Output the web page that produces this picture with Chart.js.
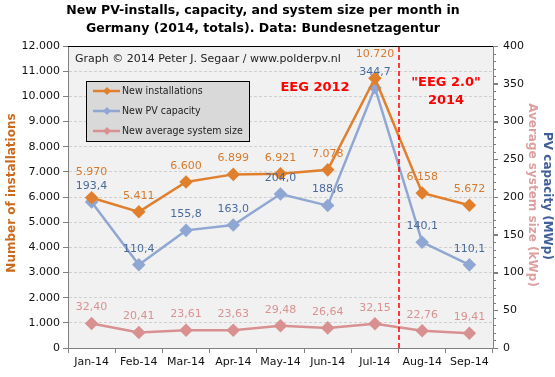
<!DOCTYPE html>
<html>
<head>
<meta charset="utf-8">
<script src="https://cdn.jsdelivr.net/npm/chart.js@4/dist/chart.umd.min.js"></script>
<style>
  html, body { margin: 0; padding: 0; background: #fff; }
  #wrap { width: 555px; height: 377px; position: relative; }
</style>
</head>
<body>
<div id="wrap"><canvas id="chart"></canvas></div>
<script>
// data
const months = ['Jan-14', 'Feb-14', 'Mar-14', 'Apr-14', 'May-14', 'Jun-14', 'Jul-14', 'Aug-14', 'Sep-14'];
const installations = [5970, 5411, 6600, 6899, 6921, 7078, 10720, 6158, 5672];
const capacity = [193.4, 110.4, 155.8, 163.0, 204.0, 188.6, 344.7, 140.1, 110.1];
const avgSize = [32.40, 20.41, 23.61, 23.63, 29.48, 26.64, 32.15, 22.76, 19.41];

const FONT = 'Verdana, "DejaVu Sans", sans-serif';
const ORANGE = '#e0802e';
const BLUE = '#8fa7d2';
const PINK = '#d99090';

// extra lift (px) for a few labels that would collide
const labelLift = { 0: { 0: 10, 6: 8 } };

function fmtThousands(v) {
    return String(v).replace(/\B(?=(\d{3})+(?!\d))/g, '.');
}
function fmtComma(v, d) {
    return v.toFixed(d).replace('.', ',');
}

const extras = {
    id: 'extras',
    beforeDraw(chart) {
        const { ctx, chartArea: a } = chart;
        ctx.save();
        ctx.fillStyle = '#f1f1f1';
        ctx.fillRect(a.left, a.top, a.right - a.left, a.bottom - a.top);
        ctx.restore();
    },
    afterDatasetsDraw(chart) {
        const { ctx, chartArea: a, scales } = chart;
        ctx.save();

        // top border
        ctx.strokeStyle = '#000';
        ctx.lineWidth = 1;
        ctx.beginPath();
        ctx.moveTo(a.left, a.top + 0.5);
        ctx.lineTo(a.right, a.top + 0.5);
        ctx.stroke();

        // minor ticks on right axis
        ctx.strokeStyle = '#808080';
        for (let v = 0; v <= 400; v += 10) {
            const y = Math.round(scales.y1.getPixelForValue(v)) + 0.5;
            ctx.beginPath();
            ctx.moveTo(a.right, y);
            ctx.lineTo(a.right + (v % 50 === 0 ? 5 : 3), y);
            ctx.stroke();
        }

        // EEG boundary between Jul and Aug
        const xb = Math.round((scales.x.getPixelForValue(6) + scales.x.getPixelForValue(7)) / 2);
        ctx.strokeStyle = 'rgb(255, 0, 0)';
        ctx.lineWidth = 1.5;
        ctx.setLineDash([5, 3]);
        ctx.beginPath();
        ctx.moveTo(xb, a.top + 1);
        ctx.lineTo(xb, a.bottom);
        ctx.stroke();
        ctx.setLineDash([]);
        ctx.lineWidth = 1;

        // annotations
        ctx.fillStyle = '#ff0000';
        ctx.font = 'bold 13px ' + FONT;
        ctx.textAlign = 'center';
        ctx.textBaseline = 'middle';
        ctx.fillText('EEG 2012', 315, 88);
        ctx.fillText('"EEG 2.0"', 446, 83);
        ctx.fillText('2014', 446, 101);

        ctx.fillStyle = '#222';
        ctx.font = '11px ' + FONT;
        ctx.textAlign = 'left';
        ctx.fillText('Graph \u00a9 2014 Peter J. Segaar / www.polderpv.nl', 75, 59);

        // legend box
        ctx.fillStyle = '#d9d9d9';
        ctx.fillRect(86, 81, 163, 60);
        ctx.strokeStyle = '#000';
        ctx.strokeRect(86.5, 81.5, 163, 60);
        chart.data.datasets.forEach((ds, i) => {
            const y = 91 + i * 20;
            ctx.strokeStyle = ds.borderColor;
            ctx.lineWidth = 2.5;
            ctx.beginPath();
            ctx.moveTo(93, y);
            ctx.lineTo(120, y);
            ctx.stroke();
            ctx.fillStyle = ds.borderColor;
            ctx.beginPath();
            ctx.moveTo(107, y - 4);
            ctx.lineTo(111, y);
            ctx.lineTo(107, y + 4);
            ctx.lineTo(103, y);
            ctx.closePath();
            ctx.fill();
            ctx.fillStyle = '#222';
            ctx.font = '10.5px "DejaVu Sans Condensed", ' + FONT;
            ctx.textAlign = 'left';
            ctx.fillText(ds.label, 122, y);
        });

        // data labels
        ctx.font = '11px ' + FONT;
        ctx.textAlign = 'center';
        chart.data.datasets.forEach((ds, i) => {
            const meta = chart.getDatasetMeta(i);
            meta.data.forEach((pt, j) => {
                const lift = 16 + ((labelLift[i] || {})[j] || 0);
                ctx.fillStyle = ds.labelColor;
                ctx.fillText(ds.fmt(ds.data[j]), pt.x, pt.y - lift);
            });
        });

        // axis titles
        ctx.font = 'bold 12px ' + FONT;
        ctx.save();
        ctx.translate(12, 193);
        ctx.rotate(-Math.PI / 2);
        ctx.fillStyle = '#cc6a1c';
        ctx.fillText('Number of installations', 0, 0);
        ctx.restore();

        ctx.save();
        ctx.translate(547, 196);
        ctx.rotate(Math.PI / 2);
        ctx.fillStyle = '#3f5f98';
        ctx.fillText('PV capacity (MWp)', 0, 0);
        ctx.restore();

        ctx.save();
        ctx.translate(532, 195);
        ctx.rotate(Math.PI / 2);
        ctx.fillStyle = '#dda0a0';
        ctx.fillText('Average system size (kWp)', 0, 0);
        ctx.restore();

        ctx.restore();
    },
    afterDraw(chart) {
        const { ctx } = chart;
        ctx.save();
        ctx.fillStyle = '#000';
        ctx.font = 'bold 12.5px ' + FONT;
        ctx.textAlign = 'center';
        ctx.textBaseline = 'middle';
        ctx.fillText('New PV-installs, capacity, and system size per month in', 263, 11);
        ctx.fillText('Germany (2014, totals). Data: Bundesnetzagentur', 263, 29);
        ctx.restore();
    }
};

const lineStyle = (color) => ({
    borderColor: color,
    backgroundColor: color,
    borderWidth: 2.5,
    pointStyle: 'rectRot',
    pointRadius: 5,
    pointHoverRadius: 5,
    tension: 0
});

new Chart(document.getElementById('chart'), {
    type: 'line',
    data: {
        labels: months,
        datasets: [
            Object.assign({ label: 'New installations', data: installations, yAxisID: 'y',
                labelColor: '#d87a2c', fmt: fmtThousands }, lineStyle(ORANGE)),
            Object.assign({ label: 'New PV capacity', data: capacity, yAxisID: 'y1',
                labelColor: '#4a6a9c', fmt: v => fmtComma(v, 1) }, lineStyle(BLUE)),
            Object.assign({ label: 'New average system size', data: avgSize, yAxisID: 'y1',
                labelColor: '#d99292', fmt: v => fmtComma(v, 2) }, lineStyle(PINK))
        ]
    },
    options: {
        responsive: true,
        maintainAspectRatio: false,
        animation: false,
        layout: { padding: { top: 46, left: 0, right: 0, bottom: 0 } },
        plugins: {
            legend: { display: false },
            tooltip: { enabled: false },
            title: { display: false }
        },
        scales: {
            x: {
                offset: true,
                grid: { offset: true, drawOnChartArea: false, tickLength: 5, color: '#808080' },
                border: { color: '#808080' },
                ticks: { color: '#111', font: { family: FONT, size: 11 }, maxRotation: 0, padding: 3 },
                afterFit: s => { s.height = 29; }
            },
            y: {
                position: 'left',
                min: 0, max: 12000,
                ticks: { stepSize: 1000, color: '#111', font: { family: FONT, size: 11 }, padding: 3,
                    callback: v => fmtThousands(v) },
                grid: { color: '#d0d0d0', tickColor: '#808080', tickLength: 5 },
                border: { color: '#808080', dash: [3, 2] },
                afterFit: s => { s.width = 68; }
            },
            y1: {
                position: 'right',
                min: 0, max: 400,
                ticks: { stepSize: 50, color: '#111', font: { family: FONT, size: 11 }, padding: 5 },
                grid: { drawOnChartArea: false, tickLength: 5, color: '#808080' },
                border: { color: '#808080' },
                afterFit: s => { s.width = 62; }
            }
        }
    },
    plugins: [extras]
});
</script>
</body>
</html>
